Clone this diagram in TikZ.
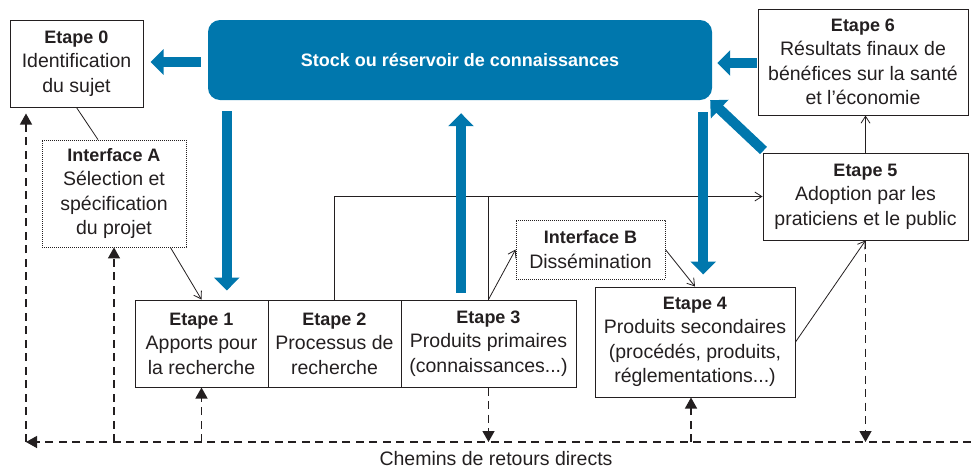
\documentclass[tikz,border=0pt]{standalone}
\usepackage{fontspec}
\setmainfont{Liberation Sans}
\usetikzlibrary{arrows.meta,calc}
\definecolor{bleu}{RGB}{0,119,173}
\definecolor{encre}{RGB}{35,31,32}
\newcommand{\etp}[1]{{\bfseries\fontsize{18}{24.5}\selectfont #1}}
\tikzset{
  texte/.style={font=\fontsize{19.5}{24.5}\selectfont, text=encre, align=center, inner sep=0pt},
  etapebox/.style={texte, draw=encre, line width=1pt, minimum height=87pt},
  interfacebox/.style={texte, draw=encre, line width=0.8pt, dash pattern=on 0.8pt off 1.2pt},
  grossefleche/.style={draw=bleu, line width=10pt, -{Triangle[width=25pt,length=13pt]}},
  fleche/.style={draw=encre, line width=0.8pt, -{Straight Barb[length=7pt,width=9pt]}},
  lien/.style={draw=encre, line width=0.8pt},
  retour/.style={draw=encre, line width=1.3pt, dash pattern=on 8pt off 5.5pt, -{Triangle[width=12pt,length=11pt]}},
}

\begin{document}
\begin{tikzpicture}[x=1pt, y=-1pt]
    \useasboundingbox (0,0) rectangle (971,469);

    % etapes et interfaces
    \node[etapebox, minimum width=133pt] (e0) at (76.5,63.5) {\etp{Etape 0}\\Identification\\du sujet};
    \node[texte, fill=bleu, text=white, rounded corners=12pt, minimum width=504pt, minimum height=80pt] (stock) at (460,60) {\etp{Stock ou réservoir de connaissances}};
    \node[etapebox, minimum width=210pt, minimum height=106pt] (e6) at (863,62) {\etp{Etape 6}\\Résultats finaux de\\bénéfices sur la santé\\et l’économie};
    \node[etapebox, minimum width=205pt] (e5) at (865.5,196.5) {\etp{Etape 5}\\Adoption par les\\praticiens et le public};
    \node[interfacebox, minimum width=144pt, minimum height=107pt] (ia) at (114,193.5) {\etp{Interface A}\\Sélection et\\spécification\\du projet};
    \node[etapebox, minimum width=133pt] (e1) at (201.5,343.5) {\etp{Etape 1}\\Apports pour\\la recherche};
    \node[etapebox, minimum width=133pt] (e2) at (334.5,343.5) {\etp{Etape 2}\\Processus de\\recherche};
    \node[etapebox, minimum width=175pt] (e3) at (488.5,343.5) {\etp{Etape 3}\\Produits primaires\\(connaissances...)};
    \node[interfacebox, minimum width=149pt, minimum height=59pt] (ib) at (590.5,249.5) {\etp{Interface B}\\Dissémination};
    \node[etapebox, minimum width=200pt, minimum height=110pt] (e4) at (695,342) {\etp{Etape 4}\\Produits secondaires\\(procédés, produits,\\réglementations...)};
    \node[texte] (chemins) at (496,459) {Chemins de retours directs};

    % liens fins
    \draw[lien] (e0.south) -- ($(ia.north)+(-16,0)$);
    \draw[fleche] ($(ia.south east)+(-16,0)$) -- (e1.north);
    \draw[fleche] (e2.north) |- (e5.west);
    \draw[lien] (e3.north) -- (e3.north |- e5.west);
    \draw[fleche] (e3.north) -- (ib.west);
    \draw[fleche] (ib.east) -- (e4.north);
    \draw[fleche] (e4.east) -- (e5.south);
    \draw[fleche] (e5.north) -- (e5.north |- e6.south);

    % chemins de retours
    \coordinate (retL) at (26,442);
    \coordinate (retR) at (971,442);
    \draw[retour] (retR) -- (retL);
    \draw[retour] (retL) -- ($(retL |- e0.south)+(0,6)$);
    \draw[retour] (ia.south |- retL) -- (ia.south);
    \draw[retour] (e1.south |- retL) -- (e1.south);
    \draw[retour] (e3.south) -- (e3.south |- retL);
    \draw[retour] ([xshift=-4pt]e4.south |- retL) -- ([xshift=-4pt]e4.south);
    \draw[retour] (e5.south) -- (e5.south |- retL);

    % grosses fleches bleues
    \draw[grossefleche] ($(stock.west)+(-7,2)$) -- ($(e0.east |- stock.west)+(7,2)$);
    \draw[grossefleche] ($(e6.west)+(-1,1)$) -- ($(stock.east |- e6.west)+(5,1)$);
    \draw[grossefleche] ($(stock.south west)+(19,11)$) -- ($(stock.south west |- e1.north)+(19,-9)$);
    \draw[grossefleche] ($(stock.south |- e3.north)+(1,-7)$) -- ($(stock.south)+(1,13)$);
    \draw[grossefleche] ($(stock.south east)+(-9,12)$) -- ($(stock.south east |- e4.north)+(-9,-12)$);
    \draw[grossefleche] ($(e5.north west)+(1,-2)$) -- ($(stock.south east)+(-2,0)$);
\end{tikzpicture}
\end{document}
